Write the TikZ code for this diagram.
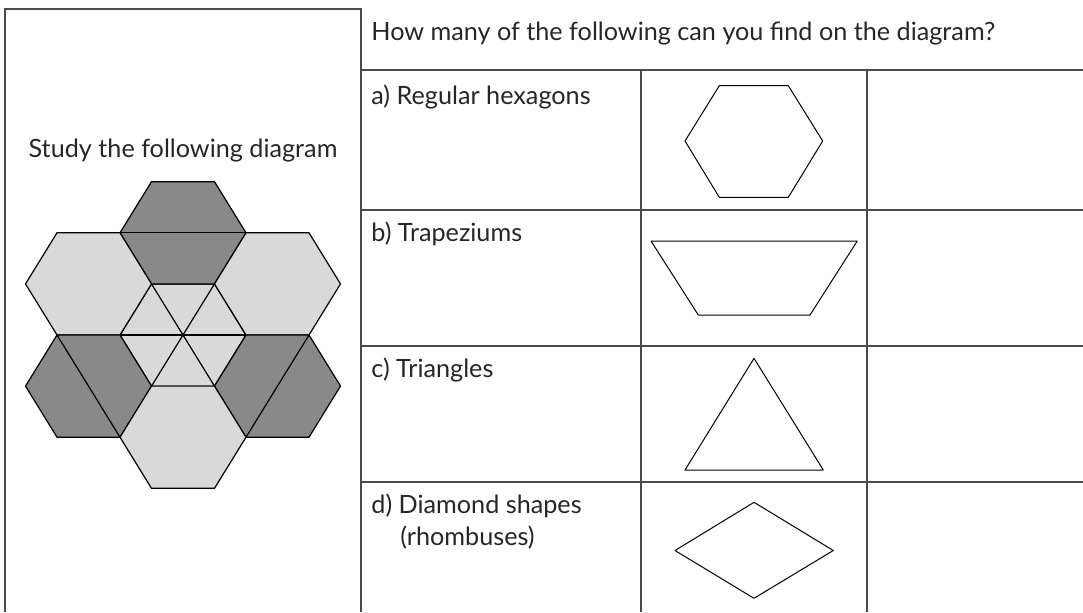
\documentclass[tikz,border=0pt]{standalone}
\usepackage{fontspec}
\setmainfont{Lato}
\usepackage{tikz}
\usetikzlibrary{positioning}
\definecolor{hexDark}{RGB}{137,137,137}
\definecolor{hexLight}{RGB}{217,217,217}
\definecolor{ruleGray}{RGB}{75,75,75}
\tikzset{
  tline/.style = {draw=ruleGray, line width=0.65pt},
  shp/.style   = {draw=black, line width=0.5pt, line join=round},
  txt/.style   = {anchor=base west, inner sep=0pt,
                  font=\fontsize{12.6}{15}\selectfont, text=black!85}
}

\begin{document}
\begin{tikzpicture}[
        x=0.5pt, y=-0.5pt,
        hexfill/.style={shp, line width=0.6pt},
        cut/.style={draw=black, line width=0.6pt}
      ]
        \useasboundingbox (0,0) rectangle (1083,612);

        % ── TABLE RULES ──
        \draw[tline] (5,612) -- (5,9) -- (361,9) -- (361,612);
        \draw[tline] (361,70) -- (1083,70);
        \foreach \ry in {210,346,482}
          \draw[tline] (361,\ry) -- (1083,\ry);
        \draw[tline] (641,70) -- (641,612);
        \draw[tline] (867,70) -- (867,612);

        % ── TEXTS ──
        \node[txt] (question) at (371,40) {How many of the following can you find on the diagram?};
        \node[txt, anchor=base] (study) at (183,157) {Study the following diagram};
        \node[txt] (rowa) at (371,104) {a) Regular hexagons};
        \node[txt] (rowb) at (371,241) {b) Trapeziums};
        \node[txt] (rowc) at (371,377) {c) Triangles};
        \node[txt] (rowd) at (371,513) {d) Diamond shapes};
        \node[txt] (rowdd) at (400,545) {(rhombuses)};

        % ── HEXAGON PATTERN ──
        \foreach \hx/\hy/\hf in {183/335/hexLight, 183/232.8/hexDark,
                                 88.5/283.9/hexLight, 277.5/283.9/hexLight,
                                 88.5/386.1/hexDark, 277.5/386.1/hexDark,
                                 183/437.2/hexLight}
          \draw[hexfill, fill=\hf, shift={(\hx,\hy)}]
            (63,0) -- (31.5,-51.1) -- (-31.5,-51.1) -- (-63,0)
            -- (-31.5,51.1) -- (31.5,51.1) -- cycle;

        % cuts through the hexagons
        \draw[cut] (120,232.8) -- (246,232.8);
        \draw[cut] (57,335) -- (120,437.2);
        \draw[cut] (309,335) -- (246,437.2);
        \draw[cut] (120,335) -- (246,335);
        \draw[cut] (151.5,283.9) -- (214.5,386.1);
        \draw[cut] (214.5,283.9) -- (151.5,386.1);

        % ── SAMPLE SHAPES ──
        \draw[shp] (685,141) -- (719.3,85.7) -- (788.3,85.7) -- (822.7,141)
          -- (788.3,197.3) -- (719.3,197.3) -- cycle;
        \draw[shp] (651,241) -- (857.3,241) -- (810,315) -- (698.3,315) -- cycle;
        \draw[shp] (754,358.3) -- (823.3,470) -- (685,470) -- cycle;
        \draw[shp] (754,502.3) -- (833.3,550.5) -- (754,598.3) -- (675,550.5) -- cycle;
      \end{tikzpicture}
\end{document}
